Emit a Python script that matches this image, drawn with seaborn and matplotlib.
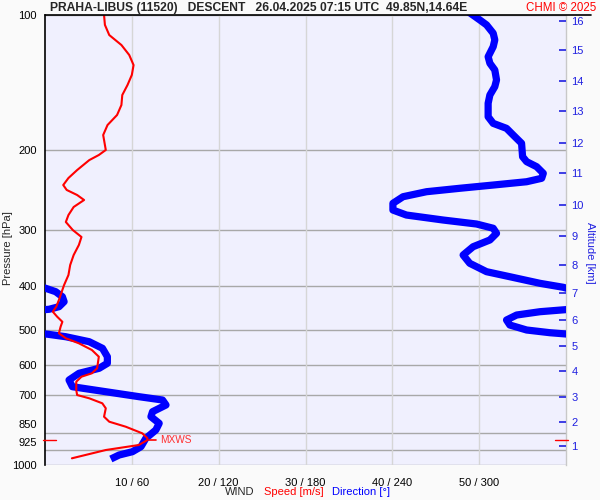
import numpy as np
import pandas as pd
import matplotlib
matplotlib.use("Agg")
import matplotlib.pyplot as plt
import matplotlib.transforms as mtransforms
from matplotlib.lines import Line2D
import seaborn as sns

# ---------------- data ----------------
speed_pressure = [100.0, 105.2, 110.8, 116.6, 122.7, 129.2, 135.9, 143.1, 150.6, 158.5,
                  166.8, 175.6, 184.8, 194.5, 199.5, 204.7, 210.1, 221.1, 230.3, 238.7,
                  244.8, 251.2, 257.7, 267.1, 278.3, 288.4, 300.5, 311.4, 324.4, 341.5,
                  359.4, 378.3, 398.1, 408.4, 429.9, 444.8, 456.4, 468.2, 480.6, 492.7,
                  509.7, 522.9, 536.5, 555.2, 574.6, 609.7, 625.5, 636.5, 653.0, 681.3,
                  699.0, 710.9, 729.3, 748.2, 781.0, 801.3, 822.1, 850.3, 872.3, 880.0,
                  902.8, 926.2, 966.3]
speed_ms = [6.8, 6.9, 7.4, 8.8, 9.7, 10.2, 10.0, 9.5, 8.9, 8.8,
            8.3, 7.2, 6.7, 6.9, 7.0, 6.2, 5.1, 3.7, 2.7, 2.1,
            2.5, 3.7, 4.5, 3.3, 2.7, 2.4, 3.2, 4.2, 3.9, 3.3,
            2.9, 2.7, 2.2, 2.0, 1.6, 1.3, 0.9, 1.4, 2.0, 1.8,
            1.6, 2.4, 3.9, 5.4, 6.2, 6.0, 5.4, 4.2, 3.6, 3.6,
            3.7, 5.1, 6.6, 7.0, 6.8, 7.4, 9.3, 11.2, 11.8, 11.8,
            10.8, 7.0, 3.1]

dir_pressure = [98.3, 102.6, 105.2, 109.8, 113.6, 117.6, 123.8, 128.0, 132.5, 139.4,
                144.3, 150.6, 157.1, 168.3, 174.1, 178.6, 184.8, 192.8, 206.5, 211.8,
                217.3, 224.8, 230.6, 234.7, 238.7, 242.7, 247.0, 253.4, 262.1, 271.3,
                278.3, 285.5, 291.4, 297.8, 305.6, 316.2, 327.3, 341.5, 356.3, 371.9,
                381.6, 394.7, 402.8, 404.9, 412.0, 422.7, 433.6, 444.8, 450.8, 456.4,
                464.2, 476.2, 488.6, 501.2, 508.2, 512.0, 518.7, 532.1, 550.4, 574.6,
                594.3, 609.7, 625.5, 647.3, 669.9, 687.3, 705.1, 717.1, 735.6, 761.3,
                781.0, 807.9, 836.0, 872.3, 910.6, 934.2, 950.2, 969.8]
dir_deg = [292.4, 300.5, 305.1, 309.7, 310.8, 309.7, 306.2, 307.4, 310.8, 312.0,
           310.8, 307.4, 306.2, 306.2, 309.7, 318.9, 323.5, 329.3, 330.0, 332.8,
           339.7, 344.3, 343.2, 332.8, 309.7, 286.6, 263.6, 247.4, 240.4, 240.4,
           249.7, 275.1, 298.2, 309.7, 312.0, 307.4, 295.8, 288.9, 293.5, 305.1,
           321.2, 342.0, 358.1, 0.5, 7.4, 12.0, 13.2, 9.7, 2.8, 342.0,
           325.9, 318.9, 321.2, 332.8, 348.9, 1.6, 14.3, 30.5, 39.7, 43.1,
           43.1, 37.4, 23.5, 16.6, 18.9, 42.0, 65.1, 81.2, 83.6, 74.3,
           73.2, 78.9, 76.6, 69.7, 66.3, 60.4, 51.2, 45.5]

pressure_ticks = [100, 200, 300, 400, 500, 600, 700, 850, 925, 1000]
speed_ticks = [10, 20, 30, 40, 50]
speed_tick_labels = ["10 / 60", "20 / 120", "30 / 180", "40 / 240", "50 / 300"]
altitude_km = list(range(1, 17))
altitude_pressure = [907.6, 801.2, 706.3, 617.2, 543.1, 476.2, 414.2, 359.4,
                     309.8, 264.0, 224.8, 192.8, 163.2, 140.2, 119.8, 103.1]
max_wind_pressure = 880.0
max_wind_speed = 12.0

title = "PRAHA-LIBUS (11520)   DESCENT   26.04.2025 07:15 UTC  49.85N,14.64E"

# ---------------- style ----------------
sns.set_style("white")
plt.rcParams["font.family"] = ["Liberation Sans", "DejaVu Sans"]

W, H = 600, 500
fig = plt.figure(figsize=(6, 5), dpi=100, facecolor="#FAFAFA")
L, R, T, B = 45, 566, 15, 465
ax = fig.add_axes([L / W, 1 - B / H, (R - L) / W, (B - T) / H])
ax.set_facecolor("#F0F0FE")

ax.set_yscale("log")
ax.set_ylim(1000, 100)
ax.set_xlim(0, 60)

# grid
for p in pressure_ticks:
    ax.axhline(p, color="#A8A8A8", lw=1.0, zorder=1)
for s in speed_ticks:
    ax.axvline(s, color="#D6D6D6", lw=1.0, zorder=1)

# direction (blue, thick, wraps across 0/360)
dunw = np.rad2deg(np.unwrap(np.deg2rad(np.array(dir_deg))))
for shift in (-360, 0, 360):
    df = pd.DataFrame({"p": dir_pressure, "x": (dunw + shift) / 6.0})
    sns.lineplot(data=df, x="x", y="p", sort=False, estimator=None, ax=ax,
                 color="#0000FF", lw=5.2, solid_joinstyle="round",
                 solid_capstyle="butt", zorder=3)

# speed (red)
dfs = pd.DataFrame({"p": speed_pressure, "s": speed_ms})
sns.lineplot(data=dfs, x="s", y="p", sort=False, estimator=None, ax=ax,
             color="#FF0000", lw=1.5, zorder=4)

# max wind marks
ax.plot([max_wind_speed, max_wind_speed + 0.8], [max_wind_pressure] * 2,
        color="#FF0000", lw=1.2, zorder=5)
ax.text(max_wind_speed + 1.3, max_wind_pressure, "MXWS", color="#FF3030",
        fontsize=7.3, va="center", ha="left", zorder=5)
btr = mtransforms.blended_transform_factory(ax.transAxes, ax.transData)
ax.plot([-0.004, 0.021], [max_wind_pressure] * 2, color="#FF0000", lw=1.0,
        transform=btr, clip_on=False, zorder=6)
ax.plot([0.979, 1.004], [max_wind_pressure] * 2, color="#FF0000", lw=1.0,
        transform=btr, clip_on=False, zorder=6)

# axes cosmetics
ax.set_xlabel("")
ax.set_ylabel("")
ax.set_yticks(pressure_ticks)
ax.set_yticklabels([str(p) for p in pressure_ticks])
ax.yaxis.set_minor_locator(matplotlib.ticker.NullLocator())
ax.set_xticks(speed_ticks)
ax.set_xticklabels(speed_tick_labels)
ax.tick_params(axis="both", length=0, labelsize=8, colors="#000000")
ax.tick_params(axis="y", pad=6)
ax.tick_params(axis="x", pad=9)
for lab in ax.get_yticklabels():
    if lab.get_text() == "850":
        lab.set_transform(lab.get_transform() + mtransforms.ScaledTranslation(0, 9 / 100, fig.dpi_scale_trans))
    if lab.get_text() == "925":
        lab.set_transform(lab.get_transform() + mtransforms.ScaledTranslation(0, 8 / 100, fig.dpi_scale_trans))
for side in ("top", "bottom"):
    ax.spines[side].set_visible(False)
ax.spines["left"].set_color("#000000")
ax.spines["left"].set_linewidth(1.2)
ax.spines["right"].set_color("#C8C8C8")
ax.spines["right"].set_linewidth(1.0)

# altitude axis on the right
ax2 = ax.twinx()
ax2.set_yscale("log")
ax2.set_ylim(1000, 100)
ax2.set_yticks(altitude_pressure)
ax2.set_yticklabels([str(a) for a in altitude_km])
ax2.yaxis.set_minor_locator(matplotlib.ticker.NullLocator())
ax2.tick_params(axis="y", direction="in", length=5, width=1.2, colors="#2020E0",
                labelsize=8, pad=4)
for side in ("top", "bottom", "left", "right"):
    ax2.spines[side].set_visible(False)

# top black line
fig.add_artist(Line2D([L / W, 591 / W], [1 - T / H, 1 - T / H], color="black", lw=1.2))

# texts
fig.text(50 / W, 1 - 8 / H, title, fontsize=8.7, fontweight="bold", ha="left", va="center")
fig.text(596 / W, 1 - 8 / H, "CHMI \u00a9 2025", fontsize=8.3, color="#FF0000",
         ha="right", va="center")
fig.text(8 / W, 1 - 248 / H, "Pressure [hPa]", rotation=90, fontsize=8,
         ha="center", va="center")
fig.text(590 / W, 1 - 253 / H, "Altitude [km]", rotation=270, fontsize=8,
         color="#2020E0", ha="center", va="center")
fig.text(225 / W, 1 - 492 / H, "WIND", fontsize=8, ha="left", va="center")
fig.text(264 / W, 1 - 492 / H, "Speed [m/s]", fontsize=8, color="#FF0000", ha="left", va="center")
fig.text(332 / W, 1 - 492 / H, "Direction [\u00b0]", fontsize=8, color="#0000FF", ha="left", va="center")

fig.savefig("out.png", dpi=100, facecolor=fig.get_facecolor())
